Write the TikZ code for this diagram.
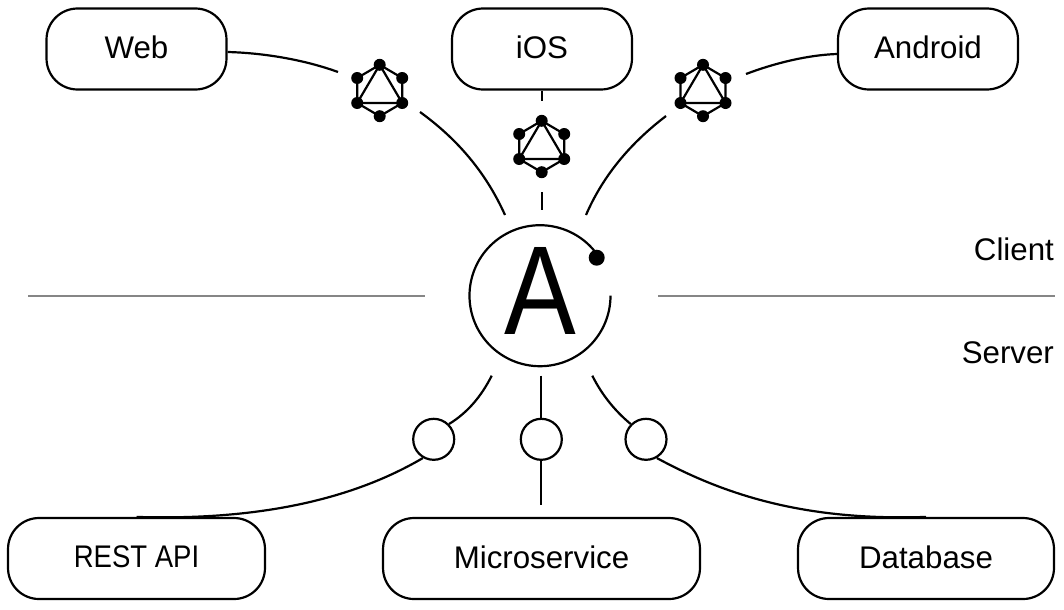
\documentclass[tikz,border=0pt]{standalone}
\usepackage{fontspec}
\setmainfont{Liberation Sans}
\usetikzlibrary{calc,positioning}
\tikzset{
	box/.style={draw,rounded corners=0.62cm,minimum height=1.62cm,inner sep=0pt,text depth=0.07cm,font=\fontsize{17.8}{20}\selectfont},
	port/.style={draw,circle,minimum size=0.82cm,inner sep=0pt},
	side/.style={anchor=east,inner sep=0pt,font=\fontsize{17.8}{20}\selectfont},
	gql/.pic={
		\coordinate (-t) at (0,-25.7);
		\coordinate (-b) at (0,25.7);
		\coordinate (-lt) at (-22.5,-12.5);
		\coordinate (-lb) at (-22.5,12.5);
		\coordinate (-rt) at (22.5,-12.5);
		\coordinate (-rb) at (22.5,12.5);
		\draw[pic actions] (-t) -- (-rt) -- (-rb) -- (-b) -- (-lb) -- (-lt) -- cycle;
		\draw[pic actions] (-t) -- (-rb) -- (-lb) -- cycle;
		\foreach \p in {t,b,lt,lb,rt,rb}
			\fill (-\p) circle (6);
	}
}

\begin{document}
\begin{tikzpicture}[x=0.02cm,y=-0.02cm,line width=0.044cm]
	\useasboundingbox (0,0) rectangle (1064,609);

	\node[box,minimum width=3.6cm] (web) at (136.5,49) {Web};
	\node[box,minimum width=3.6cm] (ios) at (542,49) {iOS};
	\node[box,minimum width=3.6cm] (android) at (928,49) {Android};
	\node[box,minimum width=5.14cm] (rest) at (136.5,558.5) {\scalebox{0.88}[1]{REST API}};
	\node[box,minimum width=6.34cm] (micro) at (541.5,558.5) {Microservice};
	\node[box,minimum width=5.12cm] (db) at (926,558.5) {Database};

	% client side
	\pic (gqlweb) at (379.7,90.5) {gql};
	\pic (gqlios) at (541.7,146.5) {gql};
	\pic (gqlandroid) at (703,90.5) {gql};

	\coordinate (webin) at (338,72);
	\coordinate (webout) at (420,112);
	\coordinate (webend) at (505,215);
	\draw ($(web.east)+(0,3)$) .. controls (265,53) and (305,60) .. (webin);
	\draw (webout) .. controls (460,141) and (487,175) .. (webend);

	\coordinate (iosin) at (542,101);
	\coordinate (iosout) at (542,192);
	\coordinate (iosend) at (542,210);
	\draw (ios.south) -- (iosin);
	\draw (iosout) -- (iosend);

	\coordinate (androidin) at (746,74);
	\coordinate (androidout) at (666,116);
	\coordinate (androidend) at (586,215);
	\draw ($(android.west)+(0,5)$) .. controls (808,55) and (775,63) .. (androidin);
	\draw (androidout) .. controls (628,145) and (602,178) .. (androidend);

	% hub
	\coordinate (hub) at (540,295.7);
	\node[font=\fontsize{72}{76}\selectfont,inner sep=0pt,xscale=0.85] (logo) at (540.5,290.5) {A};
	\node[circle,fill,minimum size=0.32cm,inner sep=0pt] (dot) at (596.7,257.7) {};
	\draw (610.5,295.7) arc (0:321:70.5);

	% divider
	\coordinate (lefta) at (28,296);
	\coordinate (leftb) at (425,296);
	\coordinate (righta) at (658,296);
	\coordinate (rightb) at (1055,296);
	\draw[gray!95,line width=0.03cm] (lefta) -- (leftb);
	\draw[gray!95,line width=0.03cm] (righta) -- (rightb);
	\node[side] (client) at (1055,249) {Client};
	\node[side] (server) at (1055,353) {Server};

	% server side
	\node[port] (restport) at (433.7,439.3) {};
	\node[port] (microport) at (541.3,439.3) {};
	\node[port] (dbport) at (646,439.3) {};

	\coordinate (restend) at (491.7,375.7);
	\coordinate (microend) at (541.3,375.7);
	\coordinate (micronear) at (541.3,505);
	\coordinate (dbend) at (592.3,375.7);
	\draw (restend) .. controls (481,397) and (467,413) .. (restport.45);
	\draw (restport.240) .. controls (360,495) and (270,521) .. (rest.north);
	\draw (microend) -- (microport);
	\draw (microport) -- (micronear);
	\draw (dbend) .. controls (602,395) and (615,411) .. (dbport.135);
	\draw (dbport.300) .. controls (725,495) and (805,521) .. (db.north);
\end{tikzpicture}
\end{document}
